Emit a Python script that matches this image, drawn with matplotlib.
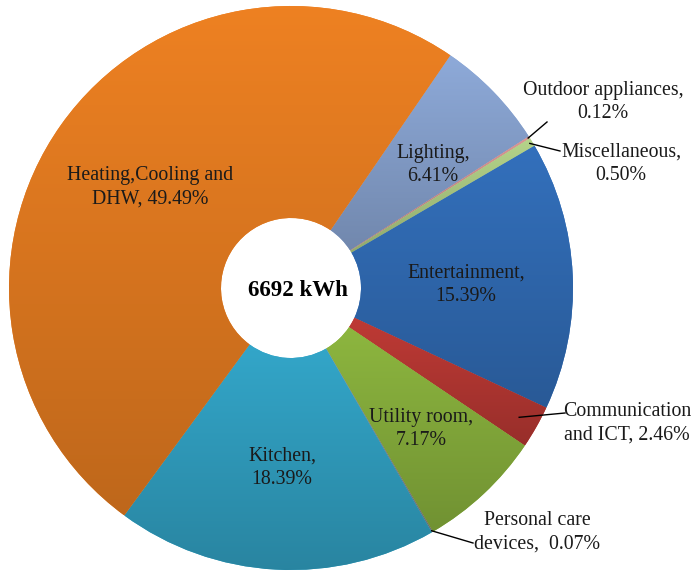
import numpy as np
import matplotlib.pyplot as plt
from matplotlib.colors import to_rgb

plt.rcParams['font.family'] = ['Liberation Serif', 'DejaVu Serif']

# slices in clockwise order, starting from the Heating/Lighting boundary
labels = ['Lighting', 'Outdoor appliances', 'Miscellaneous', 'Entertainment',
          'Communication and ICT', 'Utility room', 'Personal care devices',
          'Kitchen', 'Heating,Cooling and DHW']
shares = [6.41, 0.12, 0.50, 15.39, 2.46, 7.17, 0.07, 18.39, 49.49]
colors = ['#8eaad9', '#d99694', '#b5d48a', '#3370bc', '#be3a35',
          '#8db63f', '#8a8a8a', '#33a6c9', '#ee8122']
total = '6692 kWh'

W, H = 695, 573
fig = plt.figure(figsize=(W / 100, H / 100), dpi=100)
ax = fig.add_axes([0, 0, 1, 1])

def Y(y):  # image row -> data y
    return H - y

cx, cy, R, r_hole = 291, Y(288), 282, 70
wedges, _ = ax.pie(shares, colors=colors, startangle=55.6, counterclock=False,
                   center=(cx, cy), radius=R,
                   wedgeprops=dict(width=R - r_hole, linewidth=0))

# vertical shading inside each wedge, lighter on top, darker below
for w, c in zip(wedges, colors):
    ext = w.get_path().get_extents()
    base = np.array(to_rgb(c))
    t = np.linspace(0, 1, 128)[:, None]
    grad = base * (1 - 0.2 * t)
    img = np.repeat(grad[:, None, :], 2, axis=1)
    im = ax.imshow(img, extent=(ext.x0, ext.x1, ext.y0, ext.y1),
                   origin='upper', aspect='auto', zorder=1.5)
    im.set_clip_path(w)

ax.set_xlim(0, W)
ax.set_ylim(0, H)
ax.set_aspect('equal')
ax.axis('off')

fs = 14.3
ls = 1.3
def pct(i):
    return f'{shares[i]:.2f}%'

inside = {
    0: ('Lighting,\n' + pct(0), 433, 165),
    3: ('Entertainment,\n' + pct(3), 466, 285),
    5: ('Utility room,\n' + pct(5), 421, 429),
    7: ('Kitchen,\n' + pct(7), 282, 468),
    8: ('Heating,Cooling and\nDHW, ' + pct(8), 150, 187),
}
for i, (txt, x, y) in inside.items():
    ax.text(x, Y(y), txt, ha='center', va='center', fontsize=fs,
            color='#1a1a1a', linespacing=ls, zorder=3)

outside = {
    1: ('Outdoor appliances,\n' + pct(1), 603, 102, (547, 122), 0.995),
    2: ('Miscellaneous,\n' + pct(2), 621, 164, (560, 151), 0.99),
    4: ('Communication\nand ICT, ' + pct(4), 627, 423, (565, 413), 0.93),
    6: ('Personal care\ndevices,  ' + pct(6), 537, 532, (473, 543), 0.995),
}
for i, (txt, x, y, end, rf) in outside.items():
    w = wedges[i]
    ang = np.deg2rad((w.theta1 + w.theta2) / 2)
    ax0 = cx + R * rf * np.cos(ang)
    ay0 = cy + R * rf * np.sin(ang)
    ax.plot([ax0, end[0]], [ay0, Y(end[1])], color='black', lw=1, zorder=3)
    ax.text(x, Y(y), txt, ha='center', va='center', fontsize=fs,
            color='#1a1a1a', linespacing=ls, zorder=3)

ax.text(cx + 7, Y(290), total, ha='center', va='center', fontsize=16.5,
        fontweight='bold', color='black', zorder=3)

fig.savefig('out.png', dpi=100)
